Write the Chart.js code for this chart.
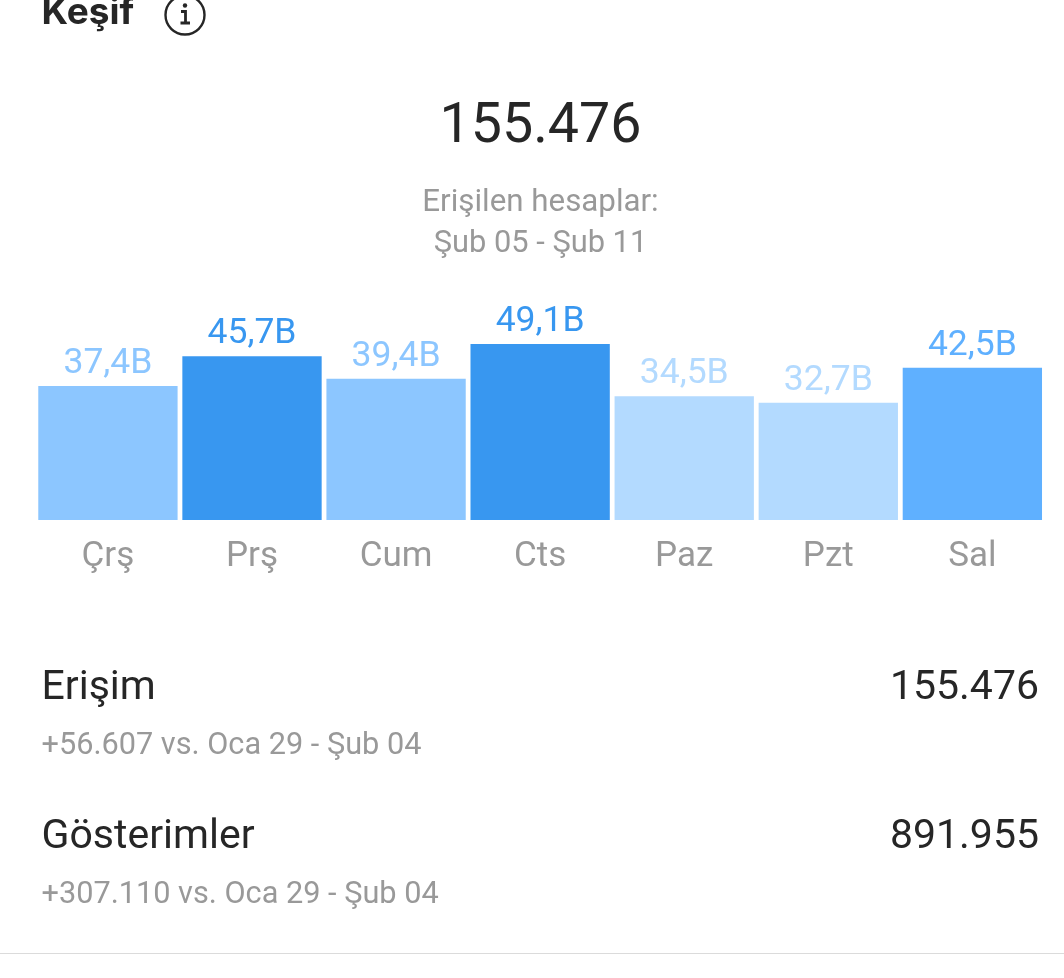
<!DOCTYPE html>
<html lang="tr"><head><meta charset="utf-8">
<script src="https://cdn.jsdelivr.net/npm/chart.js@4"></script>
<style>
html,body{margin:0;padding:0;background:#fff;overflow:hidden}
#wrap{position:relative;width:1064px;height:978px;font-family:Roboto,sans-serif}
canvas{position:absolute;left:0;top:0}
.t{position:absolute;white-space:nowrap;line-height:1}
</style></head><body>
<div id="wrap">
<canvas id="c" width="1064" height="978"></canvas>
<div class="t" style="left:41.500px;top:-8px;font-size:37px;font-weight:700;color:#262626;font-family:Inter,Roboto,sans-serif">Keşif</div>
<svg style="position:absolute;left:164px;top:-4px" width="44" height="44" viewBox="0 0 44 44"><circle cx="21" cy="19" r="19.5" fill="none" stroke="#262626" stroke-width="2.4"/><circle cx="21" cy="9.5" r="2.2" fill="#262626"/><path d="M17 15.500h4.500v11M16.500 27h9.500" fill="none" stroke="#262626" stroke-width="2.8"/></svg>
<div class="t" style="left:0;width:1081px;text-align:center;top:96px;font-size:55.5px;color:#262626">155.476</div>
<div class="t" style="left:0;width:1081px;text-align:center;top:185px;font-size:31.300px;color:#999">Erişilen hesaplar:</div>
<div class="t" style="left:0;width:1081px;text-align:center;top:227px;font-size:30.800px;color:#999">Şub 05 - Şub 11</div>
<div class="t" style="left:41.500px;top:665px;font-size:41px;color:#262626">Erişim</div>
<div class="t" style="right:25px;top:665px;font-size:41px;color:#262626">155.476</div>
<div class="t" style="left:41.500px;top:729px;font-size:30.700px;color:#999">+56.607 vs. Oca 29 - Şub 04</div>
<div class="t" style="left:41.500px;top:813.500px;font-size:41px;color:#262626">Gösterimler</div>
<div class="t" style="right:25px;top:813.500px;font-size:41px;color:#262626">891.955</div>
<div class="t" style="left:41.500px;top:878px;font-size:30.700px;color:#999">+307.110 vs. Oca 29 - Şub 04</div>
<div style="position:absolute;left:0;top:953px;width:1064px;height:1px;background:#dbdbdb"></div>
</div>
<script>
const categories=["Çrş","Prş","Cum","Cts","Paz","Pzt","Sal"];
const values=[37.4,45.7,39.4,49.1,34.5,32.7,42.5];
const valueLabels=["37,4B","45,7B","39,4B","49,1B","34,5B","32,7B","42,5B"];
const barColors=["#8cc6ff","#3897f0","#8cc6ff","#3897f0","#b3daff","#b3daff","#5fb0ff"];
const labelPlugin={id:"barLabels",afterDatasetsDraw(chart){
  const ctx=chart.ctx;ctx.save();ctx.font="35.5px Roboto";ctx.textAlign="center";ctx.textBaseline="alphabetic";
  chart.getDatasetMeta(0).data.forEach((b,i)=>{ctx.fillStyle=barColors[i];ctx.fillText(valueLabels[i],b.x,b.y-13);});
  ctx.restore();}};
new Chart(document.getElementById("c"),{type:"bar",
 data:{labels:categories,datasets:[{data:values,backgroundColor:barColors,borderWidth:0,barPercentage:0.967,categoryPercentage:1}]},
 plugins:[labelPlugin],
 options:{responsive:false,animation:false,devicePixelRatio:1,
  layout:{padding:{left:35.9,right:19.6,top:0,bottom:0}},
  plugins:{legend:{display:false},tooltip:{enabled:false},title:{display:false}},
  scales:{
   x:{afterFit(s){s.height=458;},grid:{display:false},border:{display:false},
      ticks:{color:"#999",font:{family:"Roboto",size:35},padding:8,maxRotation:0,autoSkip:false}},
   y:{display:false,min:0,max:145.05}}}});
</script>
</body></html>
